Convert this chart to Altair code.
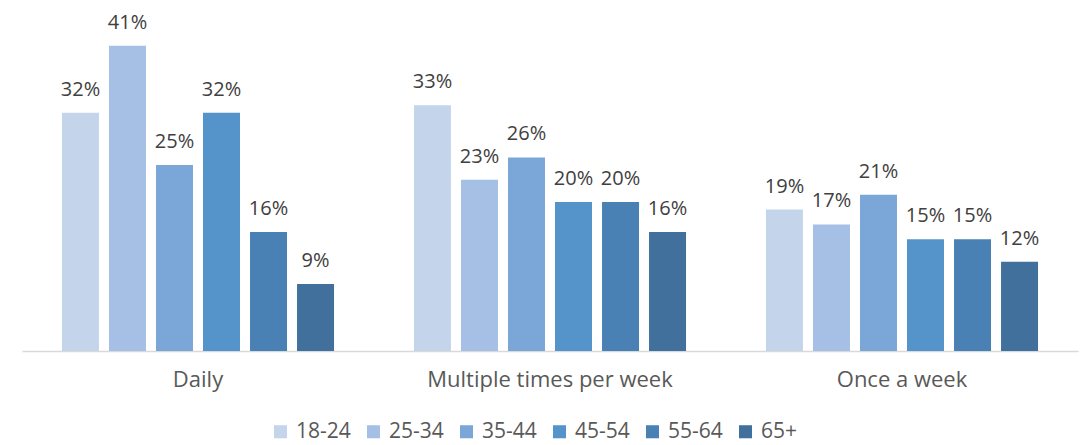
import altair as alt
import pandas as pd

frequencies = ["Daily", "Multiple times per week", "Once a week"]
age_groups = ["18-24", "25-34", "35-44", "45-54", "55-64", "65+"]
colors = ["#C4D5EB", "#A5C0E4", "#7BA7D8", "#5593CB", "#4A81B4", "#41709C"]

# share of respondents per age group, in percent
daily = [32, 41, 25, 32, 16, 9]
multiple_per_week = [33, 23, 26, 20, 20, 16]
once_a_week = [19, 17, 21, 15, 15, 12]

rows = []
for freq, series in zip(frequencies, [daily, multiple_per_week, once_a_week]):
    for age, v in zip(age_groups, series):
        rows.append({"frequency": freq, "age": age, "value": v / 100})
df = pd.DataFrame(rows)

FONT = "Open Sans"
FS = 20

base = alt.Chart(df).encode(
    x=alt.X(
        "frequency:N",
        sort=frequencies,
        scale=alt.Scale(paddingInner=0, paddingOuter=0),
        axis=alt.Axis(
            title=None,
            labelAngle=0,
            labelFontSize=22,
            labelColor="#595959",
            labelFont=FONT,
            labelPadding=18,
            labelLimit=0,
            ticks=False,
            domainColor="#D9D9D9",
            domainWidth=1.5,
        ),
    ),
    xOffset=alt.XOffset(
        "age:N",
        sort=age_groups,
        scale=alt.Scale(paddingInner=0.213, paddingOuter=0.85),
    ),
    y=alt.Y("value:Q", scale=alt.Scale(domain=[0, 0.45]), axis=None),
)

bars = base.mark_bar().encode(
    color=alt.Color(
        "age:N",
        sort=age_groups,
        scale=alt.Scale(domain=age_groups, range=colors),
        legend=alt.Legend(
            title=None,
            orient="none",
            legendX=248,
            legendY=405,
            direction="horizontal",
            symbolType="square",
            symbolSize=170,
            symbolStrokeWidth=0,
            labelOffset=5,
            labelFontSize=21,
            labelColor="#595959",
            labelFont=FONT,
            columnPadding=12,
        ),
    )
)

labels = base.mark_text(
    baseline="alphabetic", dy=-17, fontSize=FS, color="#404040", font=FONT
).encode(text=alt.Text("value:Q", format=".0%"))

chart = (
    (bars + labels)
    .properties(
        width=1056,
        height=335,
        background="white",
        autosize=alt.AutoSizeParams(type="none"),
        padding={"left": 22, "top": 16, "right": 9, "bottom": 94},
    )
    .configure_view(strokeWidth=0)
)

chart.save("out.html", embed_options={"renderer": "svg", "actions": False})
